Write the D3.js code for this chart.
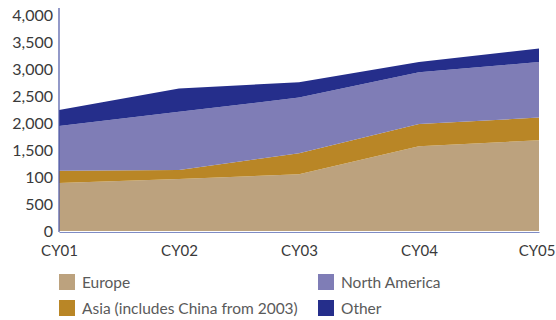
<!DOCTYPE html>
<html>
<head>
<meta charset="utf-8">
<script src="https://cdn.jsdelivr.net/npm/d3@7"></script>
<style>
  body { margin: 0; background: #fff; }
  svg { display: block; }
  text { font-family: Lato, "Liberation Sans", sans-serif; }
</style>
</head>
<body>
<div id="chart"></div>
<script>
// data
const years = ["CY01", "CY02", "CY03", "CY04", "CY05"];
const europe = [890, 965, 1050, 1570, 1680];
const asia = [225, 165, 390, 410, 420];
const northAmerica = [830, 1080, 1030, 960, 1030];
const other = [295, 430, 285, 190, 250];

const yTicks = [0, 500, 1000, 1500, 2000, 2500, 3000, 3500, 4000];
// the source chart really labels 1,000 as "100"
const yTickLabels = ["0", "500", "100", "1,500", "2,000", "2,500", "3,000", "3,500", "4,000"];

const seriesNames = ["Europe", "Asia (includes China from 2003)", "North America", "Other"];
const seriesKeys = ["europe", "asia", "na", "other"];
const colors = ["#bca27e", "#b98626", "#7f7db6", "#252e8b"];

const width = 556, height = 320;
const margin = { top: 15, left: 59, right: 17, bottom: 89 };

const table = years.map((y, i) => ({
    year: y, europe: europe[i], asia: asia[i], na: northAmerica[i], other: other[i]
}));

const svg = d3.select("#chart").append("svg")
    .attr("width", width)
    .attr("height", height);

const x = d3.scalePoint()
    .domain(years)
    .range([margin.left, width - margin.right]);

const y = d3.scaleLinear()
    .domain([0, 4000])
    .range([height - margin.bottom, margin.top]);

const layers = d3.stack().keys(seriesKeys)(table);

const area = d3.area()
    .x(d => x(d.data.year))
    .y0(d => y(d[0]))
    .y1(d => y(d[1]));

svg.append("g")
    .selectAll("path")
    .data(layers)
    .enter()
    .append("path")
    .attr("fill", (d, i) => colors[i])
    .attr("d", area);

// y axis
const yAxis = svg.append("g")
    .attr("transform", "translate(" + margin.left + ",0)")
    .call(d3.axisLeft(y).tickValues(yTicks).tickSize(0).tickPadding(6)
        .tickFormat((d, i) => yTickLabels[i]));
yAxis.select(".domain").remove();
yAxis.selectAll("text")
    .attr("font-size", 16)
    .attr("fill", "#3a3a3a");

svg.append("line")
    .attr("x1", margin.left).attr("x2", margin.left)
    .attr("y1", 8).attr("y2", y(0) + 1)
    .attr("stroke", "#4a56a4")
    .attr("stroke-width", 1.2);

// x axis
const xAxis = svg.append("g")
    .attr("transform", "translate(0," + (y(0) + 1) + ")")
    .call(d3.axisBottom(x).tickSize(0).tickPadding(13));
xAxis.select(".domain")
    .attr("stroke", "#7f8cc4")
    .attr("stroke-width", 1.2);
xAxis.selectAll("text")
    .attr("font-size", 15)
    .attr("fill", "#3a3a3a");
// last label sits flush with the right edge, as in the source
xAxis.selectAll(".tick:last-of-type text")
    .attr("text-anchor", "end")
    .attr("x", width - 1 - x(years[years.length - 1]));

// legend
const legendPos = [[59, 274], [59, 300], [318, 274], [318, 300]];
const legend = svg.append("g")
    .selectAll("g")
    .data(seriesNames)
    .enter()
    .append("g")
    .attr("transform", (d, i) => "translate(" + legendPos[i][0] + "," + legendPos[i][1] + ")");
legend.append("rect")
    .attr("width", 16)
    .attr("height", 16)
    .attr("fill", (d, i) => colors[i]);
legend.append("text")
    .attr("x", 23)
    .attr("y", 13.5)
    .attr("font-size", 15.5)
    .attr("fill", "#5a5a5a")
    .text(d => d);
</script>
</body>
</html>
